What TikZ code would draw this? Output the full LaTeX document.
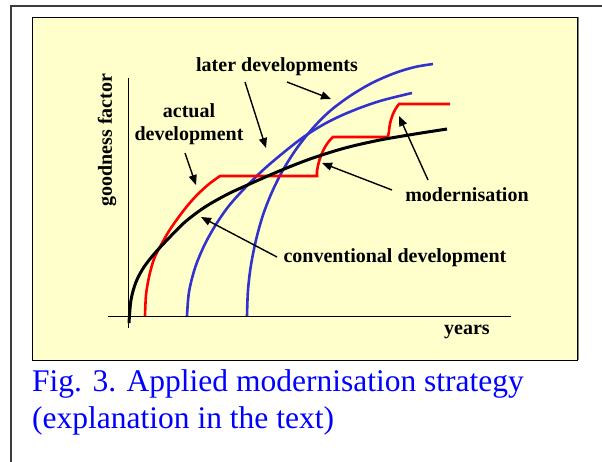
\documentclass[tikz,border=0pt]{standalone}
\usepackage{fontspec}
\setmainfont{Liberation Serif}
\usetikzlibrary{arrows.meta}
\definecolor{paleyellow}{RGB}{255,255,204}
\definecolor{framegray}{RGB}{60,60,60}
\definecolor{capblue}{RGB}{0,0,255}
\definecolor{curvered}{RGB}{255,0,0}
\definecolor{curveblue}{RGB}{51,51,204}
\tikzset{
  lbl/.style={font=\fontsize{20}{23}\selectfont\bfseries, inner sep=0pt, align=center},
  caption/.style={font=\fontsize{31.5}{37}\selectfont, text=capblue, inner sep=0pt, anchor=base west},
  pointer/.style={line width=1.4pt, -{Triangle[length=10pt,width=8pt]}},
  axisline/.style={line width=0.8pt, black},
  redc/.style={line width=2.6pt, curvered, line join=miter},
  bluec/.style={line width=2.6pt, curveblue},
  blackc/.style={line width=3pt, black}
}
\begin{document}
\begin{tikzpicture}[x=1pt,y=-1pt]
\useasboundingbox (0,0) rectangle (602,461);
% outer frame
\draw[framegray, line width=2pt] (11,470) -- (11,6) -- (610,6);
% yellow panel
\fill[paleyellow] (32,17) rectangle (577,360);
\draw[gray, line width=1.5pt] (578,17) -- (578,360);
\draw[black, line width=0.8pt] (32,17) rectangle (577,360);
% axes
\coordinate (yTop) at (128,78);
\coordinate (yBot) at (128,328);
\coordinate (xL) at (108,316);
\coordinate (xR) at (511,316);
\draw[axisline] (yBot) -- (yTop);
\draw[axisline] (xL) -- (xR);
% blue curves
\draw[bluec] plot[smooth, tension=0.55] coordinates {(187,316) (189,292) (195,268) (204,246) (215,226) (228,207) (243,190) (262,171) (283,153) (305,136) (328,122) (352,111) (380,101) (412,93)};
\draw[bluec] plot[smooth, tension=0.55] coordinates {(247,316) (248,290) (251,265) (256,240) (263,215) (272,192) (283,170) (297,148) (313,128) (330,111) (350,96) (372,83) (395,73) (415,67) (433,64)};
% red curve
\draw[redc] plot[smooth, tension=0.5] coordinates {(145,316) (146,295) (149,277) (154,259) (161,245) (169,231) (178,218) (188,205) (198,194) (209,184) (220,176)}
  -- (317,176) -- (317,171)
  .. controls (319,156) and (326,143) .. (333,137) -- (388,137) -- (389,131)
  .. controls (390,119) and (394,110) .. (399,104) -- (450,104);
% black curve
\draw[blackc] plot[smooth, tension=0.55] coordinates {(129,323) (131,300) (136,282) (144,267) (155,253) (168,239) (185,222) (205,207) (226,195) (243,187) (277,172) (310,159) (345,148) (380,140) (415,134) (447,129)};
% labels
\node[lbl, rotate=90] (gf) at (107,140) {goodness factor};
\node[lbl] (later) at (277,67) {later developments};
\node[lbl] (actual) at (189,124) {actual\\development};
\node[lbl] (modern) at (467,195) {modernisation};
\node[lbl] (conv) at (395,258) {conventional development};
\node[lbl] (years) at (467,332) {years};
% arrows
\coordinate (a1t) at (245,82);  \coordinate (a1h) at (266,148);
\coordinate (a2t) at (287,82);  \coordinate (a2h) at (331,99);
\coordinate (a3t) at (185,153); \coordinate (a3h) at (196,185);
\coordinate (a4t) at (277,257); \coordinate (a4h) at (201,217);
\coordinate (a5t) at (392,190); \coordinate (a5h) at (322,163);
\coordinate (a6t) at (428,180); \coordinate (a6h) at (399,116);
\draw[pointer] (a1t) -- (a1h);
\draw[pointer] (a2t) -- (a2h);
\draw[pointer] (a3t) -- (a3h);
\draw[pointer] (a4t) -- (a4h);
\draw[pointer] (a5t) -- (a5h);
\draw[pointer] (a6t) -- (a6h);
% caption
\node[caption] (cap1) at (32,391) {Fig. 3. Applied modernisation strategy};
\node[caption] (cap2) at (32,428) {(explanation in the text)};
\end{tikzpicture}
\end{document}
